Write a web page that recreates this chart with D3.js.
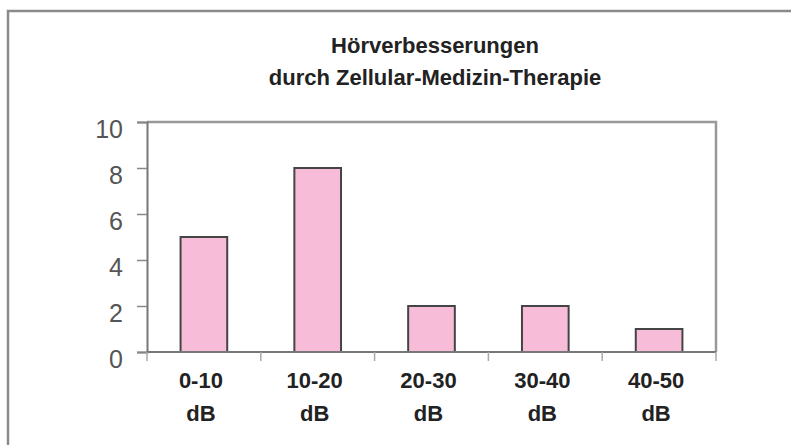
<!DOCTYPE html>
<html>
<head>
<meta charset="utf-8">
<script src="https://cdn.jsdelivr.net/npm/d3@7"></script>
<style>
  body { margin: 0; background: #fff; }
  svg { display: block; font-family: "Liberation Sans", Arial, sans-serif; }
</style>
</head>
<body>
<div id="chart"></div>
<script>
// data
var categories = ["0-10", "10-20", "20-30", "30-40", "40-50"];
var unitLabel = "dB";
var counts = [5, 8, 2, 2, 1];
var yTicks = [0, 2, 4, 6, 8, 10];
var titleLines = ["Hörverbesserungen", "durch Zellular-Medizin-Therapie"];

var width = 791, height = 445;
var margin = { top: 122, right: 75, bottom: 93, left: 147 };
var plotW = width - margin.left - margin.right,
    plotH = height - margin.top - margin.bottom;

var svg = d3.select("#chart")
    .append("svg")
    .attr("width", width)
    .attr("height", height);

// outer frame (top + left only visible)
svg.append("path")
    .attr("d", "M8," + height + "V11H" + width)
    .attr("fill", "none")
    .attr("stroke", "#8a8a8a")
    .attr("stroke-width", 2.5);

// title
svg.append("g").selectAll("text")
    .data(titleLines)
    .enter().append("text")
    .attr("x", 435)
    .attr("y", (d, i) => 53 + i * 32)
    .attr("text-anchor", "middle")
    .style("font-size", "22px")
    .style("font-weight", "bold")
    .style("fill", "#222")
    .text(d => d);

var g = svg.append("g")
    .attr("transform", "translate(" + margin.left + "," + margin.top + ")");

var x = d3.scaleBand()
    .domain(categories)
    .range([0, plotW])
    .paddingInner(0.59)
    .paddingOuter(0.295);

var y = d3.scaleLinear()
    .domain([0, 10])
    .range([plotH, 0]);

// plot box top and right
g.append("path")
    .attr("d", "M0,0H" + plotW + "V" + plotH)
    .attr("fill", "none")
    .attr("stroke", "#999")
    .attr("stroke-width", 2.5);

// bars
g.append("g")
    .selectAll("rect")
    .data(counts)
    .enter().append("rect")
    .attr("x", (d, i) => x(categories[i]))
    .attr("y", d => y(d))
    .attr("width", x.bandwidth())
    .attr("height", d => plotH - y(d))
    .attr("fill", "#f7bdd8")
    .attr("stroke", "#444")
    .attr("stroke-width", 2);

// y axis
var yAxis = g.append("g")
    .call(d3.axisLeft(y).tickValues(yTicks).tickSize(10).tickPadding(14));
yAxis.select(".domain").attr("stroke", "#777").attr("stroke-width", 2);
yAxis.selectAll(".tick line").attr("stroke", "#888").attr("stroke-width", 1.5);
yAxis.selectAll(".tick text")
    .attr("dy", "0.6em")
    .style("font-size", "25px")
    .style("font-family", "\"Liberation Sans\", Arial, sans-serif")
    .style("fill", "#555");

// x axis: baseline, boundary ticks, two-line labels
var step = x.step();
var bounds = d3.range(categories.length + 1).map(i => i * plotW / categories.length);
g.append("line")
    .attr("x1", 0).attr("x2", plotW)
    .attr("y1", plotH).attr("y2", plotH)
    .attr("stroke", "#777").attr("stroke-width", 2);
g.append("g").selectAll("line")
    .data(bounds)
    .enter().append("line")
    .attr("x1", d => d).attr("x2", d => d)
    .attr("y1", plotH).attr("y2", plotH + 9)
    .attr("stroke", "#aaa").attr("stroke-width", 1.5);

var labels = g.append("g").selectAll("text")
    .data(categories)
    .enter().append("text")
    .attr("text-anchor", "middle")
    .style("font-size", "22px")
    .style("font-weight", "bold")
    .style("fill", "#222");
labels.append("tspan")
    .attr("x", d => x(d) + x.bandwidth() / 2 - 3)
    .attr("y", plotH + 36)
    .text(d => d);
labels.append("tspan")
    .attr("x", d => x(d) + x.bandwidth() / 2 - 3)
    .attr("y", plotH + 69)
    .text(unitLabel);
</script>
</body>
</html>
